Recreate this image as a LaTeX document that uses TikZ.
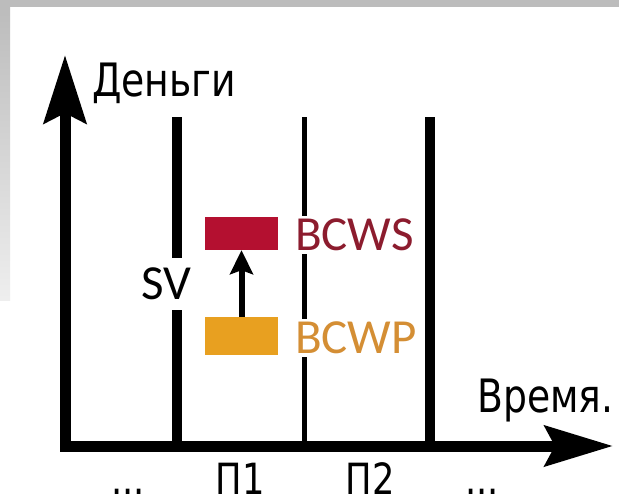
\documentclass[tikz,border=0pt]{standalone}
\usepackage{fontspec}
\setmainfont{Carlito}
\newfontfamily\axisfont{DejaVu Sans}[FakeStretch=0.82]
\usetikzlibrary{arrows.meta}

\definecolor{bcwsred}{RGB}{180,16,48}
\definecolor{bcwstext}{RGB}{140,28,46}
\definecolor{bcwporange}{RGB}{232,160,32}
\definecolor{bcwptext}{RGB}{212,142,52}
\definecolor{framegray}{RGB}{188,188,188}

\tikzset{
  axisline/.style={line width=11pt, line join=miter,
    {Stealth[length=68pt,width=42pt,inset=10pt]}-{Stealth[length=68pt,width=40pt,inset=10pt]}},
  periodthick/.style={line width=10pt},
  periodthin/.style={line width=5pt},
  axislabel/.style={font=\axisfont\fontsize{46}{52}\selectfont, inner sep=0pt},
  periodlabel/.style={font=\axisfont\fontsize{43}{48}\selectfont, inner sep=0pt},
  valuebar/.style={minimum width=73pt, inner sep=0pt},
  valuelabel/.style={font=\fontsize{49}{55}\selectfont, fill=white, inner sep=3pt},
}

\begin{document}
\begin{tikzpicture}[x=1pt,y=-1pt]
    \useasboundingbox (0,0) rectangle (619,503);
    \fill[white] (0,0) rectangle (619,503);
    \fill[framegray] (0,0) rectangle (619,7);
    \shade[top color=framegray, bottom color=framegray!25] (0,7) rectangle (10,300);

    \coordinate (origin) at (65,446);
    \coordinate (ytip) at (65,55);
    \coordinate (xtip) at (613,446);

    \coordinate (Atop) at (177,117);
    \coordinate (Abot) at (177,446);
    \coordinate (Btop) at (304,117);
    \coordinate (Bbot) at (304,446);
    \coordinate (Ctop) at (430,117);
    \coordinate (Cbot) at (430,446);

    \draw[periodthick] (Atop) -- (Abot);
    \draw[periodthin] (Btop) -- (Bbot);
    \draw[periodthick] (Ctop) -- (Cbot);
    \draw[axisline] (ytip) -- (origin) -- (xtip);

    \node[valuebar, fill=bcwsred, minimum height=33pt] at (241.5,233.5) (bcwsBar) {};
    \node[valuebar, fill=bcwporange, minimum height=38pt] at (241.5,336) (bcwpBar) {};
    \draw[line width=6pt, -{Stealth[length=24pt,width=23pt,inset=4pt]}] (bcwpBar.north) -- (bcwsBar.south);

    \node[valuelabel, text=bcwstext, anchor=west] at (292,235) (BCWS) {BCWS};
    \node[valuelabel, text=bcwptext, anchor=west] at (292,338) (BCWP) {BCWP};
    \node[valuelabel, inner sep=10pt] at (166,284) (SV) {SV};

    \node[axislabel, anchor=base west] at (92,97) (money) {Деньги};
    \node[axislabel, anchor=base west] at (477,412) (time) {Время.};
    \node[periodlabel, anchor=base] at (240,494) (P1) {П1};
    \node[periodlabel, anchor=base] at (370,494) (P2) {П2};
    \node[periodlabel, anchor=base] at (128,494) (dotsL) {...};
    \node[periodlabel, anchor=base] at (482,494) (dotsR) {...};
  \end{tikzpicture}
\end{document}
